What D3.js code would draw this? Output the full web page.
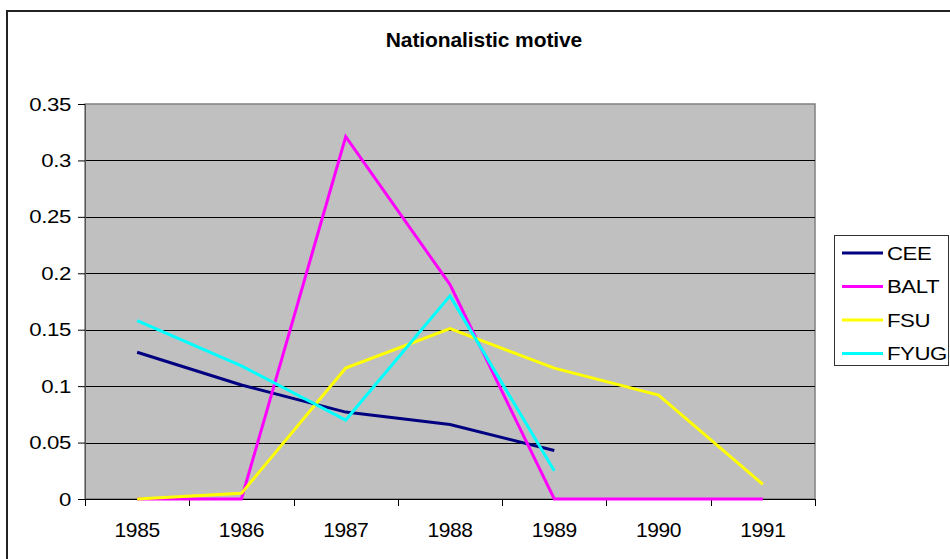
<!DOCTYPE html>
<html>
<head>
<meta charset="utf-8">
<script src="https://cdn.jsdelivr.net/npm/d3@7"></script>
<style>
  body { margin: 0; background: #fff; }
  text { font-family: "Liberation Sans", Arial, sans-serif; }
</style>
</head>
<body>
<div id="chart"></div>
<script>
// data
var years = ["1985", "1986", "1987", "1988", "1989", "1990", "1991"];
var cee  = [0.130, 0.101, 0.077, 0.066, 0.043, null, null];
var balt = [0, 0, 0.321, 0.190, 0, 0, 0];
var fsu  = [0, 0.005, 0.116, 0.151, 0.116, 0.092, 0.013];
var fyug = [0.158, 0.118, 0.070, 0.180, 0.025, null, null];
var yTicks = [0, 0.05, 0.1, 0.15, 0.2, 0.25, 0.3, 0.35];

var series = [
  {name: "CEE",  values: cee,  color: "#000080"},
  {name: "BALT", values: balt, color: "#ff00ff"},
  {name: "FSU",  values: fsu,  color: "#ffff00"},
  {name: "FYUG", values: fyug, color: "#00ffff"}
];

var W = 950, H = 559;
var margin = {top: 104, right: 135, bottom: 60, left: 85},
    width = W - margin.left - margin.right,
    height = H - margin.top - margin.bottom;

var svg = d3.select("#chart")
  .append("svg")
    .attr("width", W)
    .attr("height", H);

// outer chart border
svg.append("rect")
  .attr("x", 7).attr("y", 11)
  .attr("width", W).attr("height", H)
  .attr("fill", "none")
  .attr("stroke", "#222")
  .attr("stroke-width", 2);

svg.append("text")
  .attr("x", 484).attr("y", 47)
  .attr("text-anchor", "middle")
  .attr("font-weight", "bold")
  .attr("font-size", 21)
  .attr("letter-spacing", -0.1)
  .text("Nationalistic motive");

var g = svg.append("g")
  .attr("transform", "translate(" + margin.left + "," + margin.top + ")");

var x = d3.scaleBand().domain(years).range([0, width]);
var y = d3.scaleLinear().domain([0, 0.35]).range([height, 0]);

// plot background
g.append("rect")
  .attr("width", width).attr("height", height)
  .attr("fill", "#c0c0c0")
  .attr("stroke", "#808080")
  .attr("stroke-width", 1.5);

// gridlines
g.selectAll(".grid")
  .data(yTicks.slice(1, -1))
  .enter().append("line")
    .attr("x1", 0).attr("x2", width)
    .attr("y1", function(d) { return Math.round(y(d)) + 0.5; })
    .attr("y2", function(d) { return Math.round(y(d)) + 0.5; })
    .attr("stroke", "#000")
    .attr("stroke-width", 1);

// y axis
var yAxis = g.append("g")
  .call(d3.axisLeft(y).tickValues(yTicks).tickSize(7).tickPadding(5)
    .tickFormat(function(d) { return d3.format("")(+d.toFixed(2)); }));
yAxis.select(".domain").attr("stroke", "#555");
yAxis.selectAll(".tick line").attr("stroke", "#000");
yAxis.selectAll("text")
  .attr("font-size", 19)
  .attr("letter-spacing", -0.3)
  .attr("transform", "scale(1.17,1)")
  .attr("fill", "#000");

// x axis
var xAxis = g.append("g")
  .attr("transform", "translate(0," + height + ")")
  .call(d3.axisBottom(x).tickSize(0).tickPadding(23));
xAxis.select(".domain").attr("stroke", "#000");
xAxis.selectAll("text")
  .attr("font-size", 21)
  .attr("letter-spacing", -0.4)
  .attr("fill", "#000");
// tick marks at category boundaries
xAxis.selectAll(".bound")
  .data(years.concat(["end"]))
  .enter().append("line")
    .attr("x1", function(d, i) { return Math.round(i * x.bandwidth()) + 0.5; })
    .attr("x2", function(d, i) { return Math.round(i * x.bandwidth()) + 0.5; })
    .attr("y1", 0).attr("y2", 7)
    .attr("stroke", "#000");

// lines
var line = d3.line()
  .defined(function(d) { return d != null; })
  .x(function(d, i) { return x(years[i]) + x.bandwidth() / 2; })
  .y(function(d) { return y(d); });

g.selectAll(".series")
  .data(series)
  .enter().append("path")
    .attr("fill", "none")
    .attr("stroke", function(d) { return d.color; })
    .attr("stroke-width", 3)
    .attr("stroke-linejoin", "miter")
    .attr("d", function(d) { return line(d.values); });

// legend
var legend = svg.append("g").attr("transform", "translate(834,235)");
legend.append("rect")
  .attr("x", 0.5).attr("y", 0.5)
  .attr("width", 114).attr("height", 130)
  .attr("fill", "#fff")
  .attr("stroke", "#333")
  .attr("stroke-width", 1);

var item = legend.selectAll(".item")
  .data(series)
  .enter().append("g")
    .attr("transform", function(d, i) { return "translate(0," + (18 + i * 33.5) + ")"; });
item.append("line")
  .attr("x1", 8).attr("x2", 49)
  .attr("stroke", function(d) { return d.color; })
  .attr("stroke-width", 3);
item.append("text")
  .attr("x", 53 / 1.17).attr("y", 6.5)
  .attr("font-size", 19)
  .attr("letter-spacing", -0.4)
  .attr("transform", "scale(1.17,1)")
  .text(function(d) { return d.name; });
</script>
</body>
</html>
